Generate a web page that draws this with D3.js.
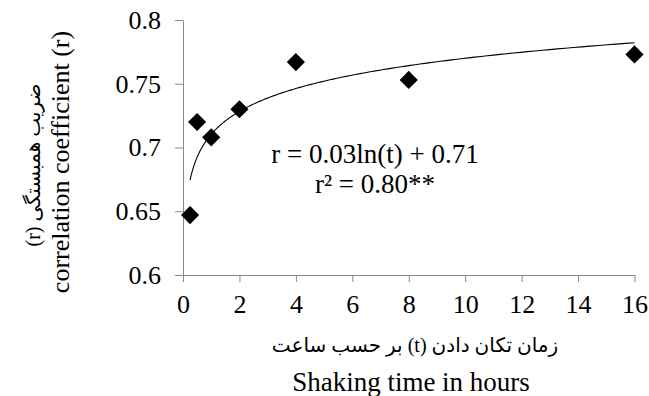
<!DOCTYPE html>
<html>
<head>
<meta charset="utf-8">
<script src="https://cdn.jsdelivr.net/npm/d3@7"></script>
<style>
  body { margin:0; background:#fff; }
  svg text { fill:#000; }
  .serif { font-family:"Liberation Serif","Times New Roman",serif; }
  .fa { font-family:"Liberation Serif","DejaVu Sans",sans-serif; }
  .axis path, .axis line { stroke:#898989; }
</style>
</head>
<body>
<div id="plot"></div>
<script>
// shaking time (h) and correlation coefficient
var times = [0.25, 0.5, 1, 2, 4, 8, 16];
var rValues = [0.647, 0.72, 0.708, 0.73, 0.767, 0.753, 0.773];
var xTicks = [0, 2, 4, 6, 8, 10, 12, 14, 16];
var yTicks = [0.6, 0.65, 0.7, 0.75, 0.8];
var eqLines = ['r = 0.03ln(t) + 0.71', 'r\u00B2 = 0.80**'];

var W = 649, H = 396;
var margin = {t:20, r:14, b:121, l:183};
var width = W - margin.l - margin.r,
    height = H - margin.t - margin.b;

var svg = d3.select('#plot').append('svg')
    .attr('width', W)
    .attr('height', H);

var plot = svg.append('g')
    .attr('transform', 'translate(' + margin.l + ',' + margin.t + ')');

var x = d3.scaleLinear().domain([0, 16]).range([0, 451.5]);
var y = d3.scaleLinear().domain([0.6, 0.8]).range([height, 0]);

// axes
var xAxis = plot.append('g')
    .attr('class', 'axis serif')
    .attr('transform', 'translate(0,' + height + ')')
    .call(d3.axisBottom(x).tickValues(xTicks).tickSize(7).tickSizeOuter(0).tickPadding(13)
        .tickFormat(d3.format('d')));
xAxis.selectAll('text').style('font-size', '26px').attr('fill', '#000');

var yAxis = plot.append('g')
    .attr('class', 'axis serif')
    .call(d3.axisLeft(y).tickValues(yTicks).tickSize(8).tickSizeOuter(0).tickPadding(14)
        .tickFormat(function(d){ return d3.format('')(+d.toFixed(2)); }));
yAxis.selectAll('text').style('font-size', '26px').attr('fill', '#000');

// log trendline, least squares on ln(t)
var lx = times.map(function(t){ return Math.log(t); });
var mx = d3.mean(lx), my = d3.mean(rValues);
var sxy = d3.sum(lx, function(v, i){ return (v - mx) * (rValues[i] - my); });
var sxx = d3.sum(lx, function(v){ return (v - mx) * (v - mx); });
var slope = sxy / sxx, icpt = my - slope * mx;

var trend = d3.range(0, 201).map(function(i){
    var t = times[0] * Math.pow(times[times.length-1] / times[0], i / 200);
    return [t, slope * Math.log(t) + icpt];
});
plot.append('path')
    .datum(trend)
    .attr('fill', 'none')
    .attr('stroke', '#000')
    .attr('stroke-width', 1.1)
    .attr('d', d3.line().x(function(d){ return x(d[0]); }).y(function(d){ return y(d[1]); }));

// diamonds
var diamond = d3.symbol().type(d3.symbolSquare).size(165);
plot.selectAll('.node')
    .data(times)
    .enter()
    .append('path')
    .attr('class', 'node')
    .attr('d', diamond)
    .attr('transform', function(d, i){ return 'translate(' + x(d) + ',' + y(rValues[i]) + ') rotate(45)'; })
    .attr('fill', '#000');

// equation
plot.selectAll('.eq')
    .data(eqLines)
    .enter()
    .append('text')
    .attr('class', 'eq serif')
    .attr('x', 192)
    .attr('y', function(d, i){ return 143 + i * 30; })
    .attr('text-anchor', 'middle')
    .style('font-size', '27px')
    .text(function(d){ return d; });

// axis titles
svg.append('text')
    .attr('class', 'fa')
    .attr('x', 415)
    .attr('y', 352)
    .attr('text-anchor', 'middle')
    .attr('direction', 'rtl')
    .style('font-size', '20px')
    .text('زمان تکان دادن (t) بر حسب ساعت');
svg.append('text')
    .attr('class', 'serif')
    .attr('x', 411)
    .attr('y', 391)
    .attr('text-anchor', 'middle')
    .style('font-size', '27px')
    .text('Shaking time in hours');

svg.append('text')
    .attr('class', 'fa')
    .attr('transform', 'translate(40,165) rotate(-90)')
    .attr('text-anchor', 'middle')
    .attr('direction', 'rtl')
    .style('font-size', '20px')
    .text('ضریب همبستگی (r)');
svg.append('text')
    .attr('class', 'serif')
    .attr('transform', 'translate(69,162) rotate(-90)')
    .attr('text-anchor', 'middle')
    .style('font-size', '26px')
    .text('correlation coefficient (r)');
</script>
</body>
</html>
